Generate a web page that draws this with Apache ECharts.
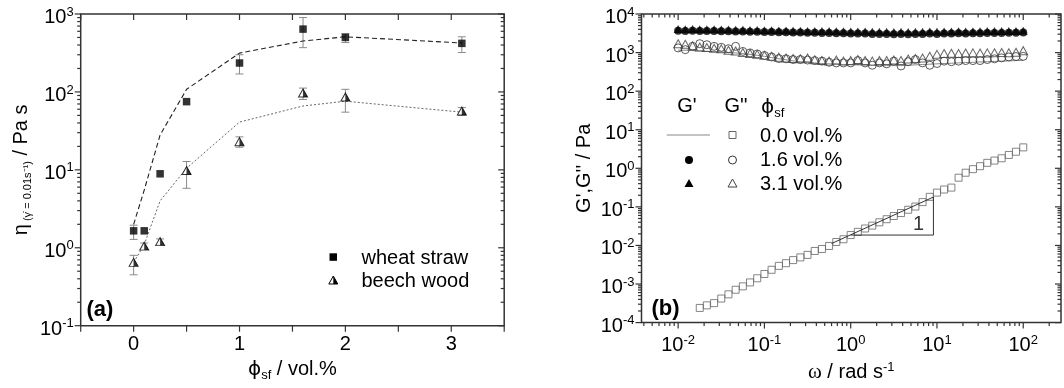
<!DOCTYPE html>
<html><head><meta charset="utf-8">
<script src="https://cdn.jsdelivr.net/npm/echarts@6/dist/echarts.min.js"></script>
<style>html,body{margin:0;padding:0;background:#fff}#c{width:1064px;height:388px}</style>
</head><body><div id="c"></div>
<script>
// ---------- Panel (a) data ----------
const phi = [0, 0.1, 0.25, 0.5, 1, 1.6, 2, 3.1];
const wheatEta = [1.65, 1.65, 8.9, 75, 235, 640, 500, 420];
const beechEta = [0.65, 1.05, 1.2, 9.8, 23, 97, 86, 57];
const wheatErrPhi = [0, 1, 1.6, 2, 3.1];
const wheatErrLo = [1.28, 170, 370, 430, 320];
const wheatErrHi = [1.95, 300, 900, 560, 510];
const beechErrPhi = [0, 0.1, 0.25, 0.5, 1, 1.6, 2, 3.1];
const beechErrLo = [0.45, 0.95, 1.1, 5.8, 19.5, 80, 55, 50];
const beechErrHi = [0.8, 1.15, 1.3, 12.8, 26.5, 112, 108, 63];
const wheatFit = [2.0, 5.5, 28, 108, 315, 450, 510, 425];
const beechFit = [0.65, 1.1, 4.0, 10.5, 41, 66, 76, 55];
const phiTicks = [-0.5, 0, 0.5, 1, 1.5, 2, 2.5, 3, 3.5];
const etaMajor = [0.1, 1, 10, 100, 1000];
const minorMult = [2, 3, 4, 5, 6, 7, 8, 9];

// ---------- Panel (b) data ----------
const omega = [0.01,0.0121,0.0147,0.0178,0.0215,0.0261,0.0316,0.0383,0.0464,0.0562,0.0681,0.0825,
  0.1,0.121,0.147,0.178,0.215,0.261,0.316,0.383,0.464,0.562,0.681,0.825,
  1,1.21,1.47,1.78,2.15,2.61,3.16,3.83,4.64,5.62,6.81,8.25,
  10,12.1,14.7,17.8,21.5,26.1,31.6,38.3,46.4,56.2,68.1,82.5,100];
const omegaSq = [0.0178,0.0215,0.0261,0.0316,0.0383,0.0464,0.0562,0.0681,0.0825,
  0.1,0.121,0.147,0.178,0.215,0.261,0.316,0.383,0.464,0.562,0.681,0.825,
  1,1.21,1.47,1.78,2.15,2.61,3.16,3.83,4.64,5.62,6.81,8.25,
  10,12.1,14.7,17.8,21.5,26.1,31.6,38.3,46.4,56.2,68.1,82.5,100];
const gpp00 = [2.4e-4,2.8e-4,3.2e-4,4.2e-4,5.4e-4,7.1e-4,8.7e-4,1.1e-3,1.41e-3,
  1.82e-3,2.34e-3,2.95e-3,3.47e-3,4.17e-3,4.9e-3,5.7e-3,7.2e-3,8.1e-3,9.7e-3,0.0123,0.0145,
  0.0186,0.0225,0.0275,0.0327,0.0398,0.0479,0.058,0.0692,0.0843,0.102,0.133,0.182,
  0.234,0.282,0.316,0.571,0.767,0.95,1.135,1.387,1.585,1.82,2.22,2.69,3.49];
const gp00 = [1150,1150,1130,1100,1080,1060,1040,1010,980,940,900,850,
  800,740,690,650,610,580,560,540,520,510,500,490,
  480,480,470,470,460,460,460,460,470,480,490,500,
  510,520,530,540,550,560,570,580,590,600,610,620,630];
const gp16 = [3700,3650,3700,3650,3600,3600,3550,3550,3500,3500,3450,3450,
  3400,3400,3350,3350,3300,3300,3250,3250,3200,3200,3150,3150,
  3100,3100,3100,3050,3050,3050,3000,3050,3000,3050,3050,3100,
  3050,3100,3100,3150,3100,3150,3150,3200,3200,3200,3250,3250,3300];
const gp31 = [4100,4050,4100,4050,4000,4000,3950,3950,3900,3900,3850,3850,
  3800,3800,3750,3750,3700,3700,3650,3650,3600,3600,3550,3550,
  3500,3500,3500,3450,3450,3450,3400,3450,3400,3450,3450,3500,
  3450,3500,3500,3550,3500,3550,3550,3600,3600,3600,3650,3650,3700];
const gpp16 = [1320,1190,1450,1700,1600,1450,1370,1260,1450,1070,980,920,
  840,770,700,690,660,660,640,620,600,560,540,540,
  540,620,540,470,540,510,600,450,580,660,540,470,
  520,600,580,600,620,620,620,660,690,730,770,790,800];
const gpp31 = [1700,1650,1500,1400,1350,1300,1250,1150,1100,1000,950,900,
  850,800,760,720,700,690,720,650,620,600,640,600,
  620,660,620,600,620,620,640,620,680,700,720,800,
  900,950,960,950,970,980,970,980,990,1000,990,1020,1120];
const slopeW = [0.6, 9.1, 9.1, 1.0];
const slopeG = [0.0112, 0.18, 0.0186, 0.0186];
const slopeLabelPos = [6.1, 0.035];
const omegaMajor = [0.01, 0.1, 1, 10, 100];
const omegaMinorExtra = [0.004, 0.005, 0.006, 0.007, 0.008, 0.009, 200];
const gMajor = [1e-4, 1e-3, 1e-2, 1e-1, 1, 10, 100, 1000, 1e4];

const FONT = 'Liberation Sans, Arial, sans-serif';
const AX = '#333';
const zip = (a, b) => a.map((v, i) => [v, b[i]]);
const zip3 = (a, b, c) => a.map((v, i) => [v, b[i], c[i]]);
function minorsOf(decades) {
  const out = [];
  decades.forEach(d => minorMult.forEach(m => out.push(+(d * m).toPrecision(6))));
  return out;
}
const etaMinor = minorsOf(etaMajor.slice(0, 4));
const omegaMinor = omegaMinorExtra.slice(0, 6).concat(minorsOf(omegaMajor.slice(0, 4)), omegaMinorExtra.slice(6));
const gMinor = minorsOf(gMajor.slice(0, 8));

function tickData(xMaj, xMin, yMaj, yMin, x0, y0) {
  const d = [];
  xMaj.forEach(v => d.push([v, y0, 0]));
  xMin.forEach(v => d.push([v, y0, 1]));
  yMaj.forEach(v => d.push([x0, v, 2]));
  yMin.forEach(v => d.push([x0, v, 3]));
  return d;
}
function tickRender(params, api) {
  const cs = params.coordSys;
  const kind = api.value(2);
  const p = api.coord([api.value(0), api.value(1)]);
  const len = (kind === 0 || kind === 2) ? 6 : 3.5;
  const st = { stroke: AX, lineWidth: 1.2 };
  if (kind < 2) {
    const x = p[0], yb = cs.y + cs.height, yt = cs.y;
    return { type: 'group', children: [
      { type: 'line', shape: { x1: x, y1: yb, x2: x, y2: yb + len }, style: st },
      { type: 'line', shape: { x1: x, y1: yt, x2: x, y2: yt + len }, style: st }
    ]};
  }
  const y = p[1], xl = cs.x, xr = cs.x + cs.width;
  return { type: 'group', children: [
    { type: 'line', shape: { x1: xl - len, y1: y, x2: xl, y2: y }, style: st },
    { type: 'line', shape: { x1: xr - len, y1: y, x2: xr, y2: y }, style: st }
  ]};
}
function errRender(params, api) {
  const x = api.value(0);
  const p1 = api.coord([x, api.value(1)]), p2 = api.coord([x, api.value(2)]);
  const w = 4, st = { stroke: '#8a8a8a', lineWidth: 1 };
  return { type: 'group', children: [
    { type: 'line', shape: { x1: p1[0], y1: p1[1], x2: p2[0], y2: p2[1] }, style: st },
    { type: 'line', shape: { x1: p1[0] - w, y1: p1[1], x2: p1[0] + w, y2: p1[1] }, style: st },
    { type: 'line', shape: { x1: p2[0] - w, y1: p2[1], x2: p2[0] + w, y2: p2[1] }, style: st }
  ]};
}
function powLabel(v) {
  const e = Math.log10(v), r = Math.round(e);
  if (Math.abs(e - r) > 1e-6) return '';
  return '{b|10}{s|' + r + '}';
}
const powRich = {
  b: { fontSize: 20, lineHeight: 24, color: '#000', fontFamily: FONT },
  s: { fontSize: 13, lineHeight: 13, verticalAlign: 'top', color: '#000', fontFamily: FONT }
};
const nameRich = {
  n: { fontSize: 20, lineHeight: 24, color: '#000', fontFamily: FONT },
  g: { fontSize: 20, lineHeight: 24, color: '#000', fontFamily: 'DejaVu Sans, sans-serif' },
  w: { fontSize: 21, lineHeight: 24, color: '#000', fontFamily: 'Liberation Serif, serif' },
  sub: { fontSize: 13, lineHeight: 13, verticalAlign: 'bottom', color: '#000', fontFamily: FONT },
  sub2: { fontSize: 11, lineHeight: 11, verticalAlign: 'bottom', color: '#000', fontFamily: FONT },
  sup: { fontSize: 13, lineHeight: 13, verticalAlign: 'top', color: '#000', fontFamily: FONT }
};

const triHalf = 'path://M0,0L1,1L0,1Z';
const gridA = { left: 80.7, top: 14, width: 423.5, height: 311.7 };
const gridB = { left: 641.5, top: 14, width: 421.5, height: 311.7 };

const option = {
  animation: false,
  backgroundColor: '#fff',
  textStyle: { fontFamily: FONT },
  grid: [
    Object.assign({ show: true, borderColor: AX, borderWidth: 1.5, backgroundColor: 'transparent' }, gridA),
    Object.assign({ show: true, borderColor: AX, borderWidth: 1.5, backgroundColor: 'transparent' }, gridB)
  ],
  xAxis: [
    { type: 'value', gridIndex: 0, min: -0.5, max: 3.5, interval: 0.5,
      axisLine: { show: false }, axisTick: { show: false }, splitLine: { show: false },
      axisLabel: { fontSize: 20, color: '#000', margin: 9,
        formatter: v => (Math.abs(v - Math.round(v)) < 1e-9 ? String(Math.round(v)) : '') },
      name: '{g|ϕ}{sub|sf}{n| / vol.%}', nameLocation: 'middle', nameGap: 31,
      nameTextStyle: { rich: nameRich } },
    { type: 'log', gridIndex: 1, min: 0.00376, max: 274, logBase: 10,
      axisLine: { show: false }, axisTick: { show: false }, splitLine: { show: false },
      axisLabel: { margin: 11, formatter: powLabel, rich: powRich },
      name: '{w|ω}{n| / rad s}{sup|-1}', nameLocation: 'middle', nameGap: 35,
      nameTextStyle: { rich: nameRich } }
  ],
  yAxis: [
    { type: 'log', gridIndex: 0, min: 0.1, max: 1000, logBase: 10,
      axisLine: { show: false }, axisTick: { show: false }, splitLine: { show: false },
      axisLabel: { margin: 7, formatter: powLabel, rich: powRich, padding: [7, 0, 0, 0] },
      name: '{n|η}{sub2| (γ̇ = 0.01s⁻¹)}{n| / Pa s}', nameLocation: 'middle', nameGap: 47,
      nameTextStyle: { rich: nameRich } },
    { type: 'log', gridIndex: 1, min: 1e-4, max: 1e4, logBase: 10,
      axisLine: { show: false }, axisTick: { show: false }, splitLine: { show: false },
      axisLabel: { margin: 7, formatter: powLabel, rich: powRich, padding: [7, 0, 0, 0] },
      name: "{n|G',G'' / Pa}", nameLocation: 'middle', nameGap: 45,
      nameTextStyle: { rich: nameRich } }
  ],
  series: [
    // ticks
    { type: 'custom', xAxisIndex: 0, yAxisIndex: 0, silent: true, clip: false, z: 10,
      renderItem: tickRender, encode: { x: 0, y: 1 },
      data: tickData(phiTicks, [], etaMajor, etaMinor, -0.5, 0.1) },
    { type: 'custom', xAxisIndex: 1, yAxisIndex: 1, silent: true, clip: false, z: 10,
      renderItem: tickRender, encode: { x: 0, y: 1 },
      data: tickData(omegaMajor, omegaMinor, gMajor, gMinor, 0.00376, 1e-4) },
    // panel (a) error bars
    { type: 'custom', xAxisIndex: 0, yAxisIndex: 0, silent: true, z: 2,
      renderItem: errRender, encode: { x: 0, y: [1, 2] },
      data: zip3(wheatErrPhi, wheatErrLo, wheatErrHi) },
    { type: 'custom', xAxisIndex: 0, yAxisIndex: 0, silent: true, z: 2,
      renderItem: errRender, encode: { x: 0, y: [1, 2] },
      data: zip3(beechErrPhi, beechErrLo, beechErrHi) },
    // fit lines
    { type: 'line', xAxisIndex: 0, yAxisIndex: 0, symbol: 'none', z: 3,
      lineStyle: { color: '#222', width: 1.1, type: [5, 3] }, data: zip(phi, wheatFit) },
    { type: 'line', xAxisIndex: 0, yAxisIndex: 0, symbol: 'none', z: 3,
      lineStyle: { color: '#666', width: 1, type: [2, 2] }, data: zip(phi, beechFit) },
    // markers (a)
    { type: 'scatter', xAxisIndex: 0, yAxisIndex: 0, symbol: 'rect', symbolSize: 7.5, z: 5,
      itemStyle: { color: '#000' }, data: zip(phi, wheatEta) },
    { type: 'scatter', xAxisIndex: 0, yAxisIndex: 0, symbol: 'triangle', symbolSize: [9, 8], z: 5,
      itemStyle: { color: '#fff', borderColor: '#000', borderWidth: 1 }, data: zip(phi, beechEta) },
    { type: 'scatter', xAxisIndex: 0, yAxisIndex: 0, symbol: triHalf, symbolSize: [4.5, 8], symbolOffset: [2.25, 0], z: 6,
      itemStyle: { color: '#000' }, data: zip(phi, beechEta) },
    // panel (b)
    { type: 'line', xAxisIndex: 1, yAxisIndex: 1, symbol: 'none', z: 3,
      lineStyle: { color: '#888', width: 1 }, data: zip(omega, gp00) },
    { type: 'scatter', xAxisIndex: 1, yAxisIndex: 1, symbol: 'rect', symbolSize: 7, z: 5,
      itemStyle: { color: 'rgba(255,255,255,0)', borderColor: '#666', borderWidth: 1 }, data: zip(omegaSq, gpp00) },
    { type: 'scatter', xAxisIndex: 1, yAxisIndex: 1, symbol: 'circle', symbolSize: 8, z: 5,
      itemStyle: { color: 'rgba(255,255,255,0)', borderColor: '#333', borderWidth: 1 }, data: zip(omega, gpp16) },
    { type: 'scatter', xAxisIndex: 1, yAxisIndex: 1, symbol: 'triangle', symbolSize: [9, 8], z: 5,
      itemStyle: { color: 'rgba(255,255,255,0)', borderColor: '#444', borderWidth: 1 }, data: zip(omega, gpp31) },
    { type: 'scatter', xAxisIndex: 1, yAxisIndex: 1, symbol: 'circle', symbolSize: 8, z: 5,
      itemStyle: { color: '#000' }, data: zip(omega, gp16) },
    { type: 'scatter', xAxisIndex: 1, yAxisIndex: 1, symbol: 'triangle', symbolSize: [9, 8], z: 5,
      itemStyle: { color: '#000' }, data: zip(omega, gp31) },
    { type: 'line', xAxisIndex: 1, yAxisIndex: 1, symbol: 'none', z: 6,
      lineStyle: { color: '#333', width: 1 }, data: zip(slopeW, slopeG) },
    { type: 'scatter', xAxisIndex: 1, yAxisIndex: 1, symbolSize: 0, z: 6, silent: true,
      label: { show: true, position: 'inside', formatter: '1', fontSize: 20, color: '#000', fontFamily: FONT },
      data: [slopeLabelPos] }
  ],
  graphic: [
    // (a) legend
    { type: 'rect', shape: { x: 329.5, y: 253.3, width: 7.5, height: 7.5 }, style: { fill: '#000' } },
    { type: 'text', x: 361.5, y: 258, style: { text: 'wheat straw', font: '20px ' + FONT, fill: '#000', textAlign: 'left', textVerticalAlign: 'middle' } },
    { type: 'polygon', shape: { points: [[333.3, 276], [337.8, 284], [328.8, 284]] }, style: { fill: '#fff', stroke: '#000', lineWidth: 1 } },
    { type: 'polygon', shape: { points: [[333.3, 276], [337.8, 284], [333.3, 284]] }, style: { fill: '#000' } },
    { type: 'text', x: 361.5, y: 281.5, style: { text: 'beech wood', font: '20px ' + FONT, fill: '#000', textAlign: 'left', textVerticalAlign: 'middle' } },
    { type: 'text', x: 86.5, y: 310, style: { text: '(a)', font: 'bold 22px ' + FONT, fill: '#000', textAlign: 'left', textVerticalAlign: 'middle' } },
    { type: 'text', x: 651.5, y: 309, style: { text: '(b)', font: 'bold 22px ' + FONT, fill: '#000', textAlign: 'left', textVerticalAlign: 'middle' } },
    // (b) legend
    { type: 'text', x: 687, y: 106, style: { text: "G'", font: '20px ' + FONT, fill: '#000', textAlign: 'center', textVerticalAlign: 'middle' } },
    { type: 'text', x: 736, y: 106, style: { text: "G''", font: '20px ' + FONT, fill: '#000', textAlign: 'center', textVerticalAlign: 'middle' } },
    { type: 'text', x: 761, y: 108, style: { text: '{a|ϕ}{b|sf}', textAlign: 'left', textVerticalAlign: 'middle',
      rich: { a: { fontSize: 20, lineHeight: 24, fontFamily: 'DejaVu Sans, sans-serif', fill: '#000' }, b: { fontSize: 13, lineHeight: 13, verticalAlign: 'bottom', fontFamily: FONT, fill: '#000' } } } },
    { type: 'line', shape: { x1: 666.7, y1: 135, x2: 710, y2: 135 }, style: { stroke: '#888', lineWidth: 1 } },
    { type: 'rect', shape: { x: 729, y: 131.5, width: 7, height: 7 }, style: { fill: 'none', stroke: '#666', lineWidth: 1 } },
    { type: 'text', x: 760, y: 136, style: { text: '0.0 vol.%', font: '20px ' + FONT, fill: '#000', textAlign: 'left', textVerticalAlign: 'middle' } },
    { type: 'circle', shape: { cx: 689, cy: 160, r: 4 }, style: { fill: '#000' } },
    { type: 'circle', shape: { cx: 732.5, cy: 160, r: 4 }, style: { fill: 'none', stroke: '#333', lineWidth: 1 } },
    { type: 'text', x: 760, y: 160, style: { text: '1.6 vol.%', font: '20px ' + FONT, fill: '#000', textAlign: 'left', textVerticalAlign: 'middle' } },
    { type: 'polygon', shape: { points: [[689, 179], [693.5, 187], [684.5, 187]] }, style: { fill: '#000' } },
    { type: 'polygon', shape: { points: [[732.5, 179], [737, 187], [728, 187]] }, style: { fill: 'none', stroke: '#444', lineWidth: 1 } },
    { type: 'text', x: 760, y: 184, style: { text: '3.1 vol.%', font: '20px ' + FONT, fill: '#000', textAlign: 'left', textVerticalAlign: 'middle' } }
  ]
};
const chart = echarts.init(document.getElementById('c'), null, { renderer: 'canvas' });
chart.setOption(option);
</script>
</body></html>
